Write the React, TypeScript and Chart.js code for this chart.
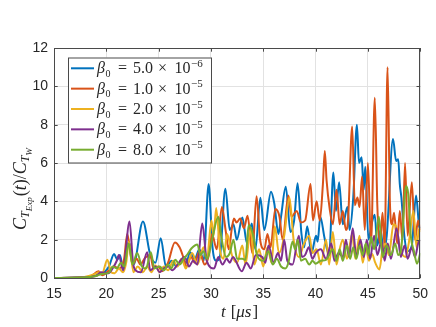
import React, { useEffect, useRef } from 'react';
import { Chart, registerables } from 'chart.js';

Chart.register(...registerables);

const xTickValues = [15, 20, 25, 30, 35, 40, 45, 50];
const yTickValues = [0, 2, 4, 6, 8, 10, 12];
const legendMantissa = ['5.0', '1.0', '2.0', '4.0', '8.0'];
const legendExponent = ['\u22126', '\u22125', '\u22125', '\u22125', '\u22125'];
const seriesColors = ['#0072BD', '#D95319', '#EDB120', '#7E2F8E', '#77AC30'];

// [t (µs), C_TExp/C_TW]
const beta5e6: [number, number][] = [[15,0],[17,0.02],[18,0.05],[18.8,0.1],[19.3,0.2],[19.8,0.3],[20.25,0.6],[20.75,1.25],[21.05,0.95],[21.3,1.2],[21.6,0.5],[22.15,1.9],[22.6,0.7],[23.5,2.95],[24.2,1.2],[24.7,0.8],[25.2,2.08],[25.7,0.6],[26.25,0.9],[26.7,0.6],[27.25,1.0],[27.65,0.8],[28.0,1.35],[28.45,1.0],[28.9,1.5],[29.3,0.9],[29.78,4.9],[30.15,1.6],[30.5,0.9],[30.85,1.1],[31.38,4.66],[31.8,2.5],[32.15,2.8],[32.47,2.0],[33.0,3.15],[33.45,1.8],[33.9,2.85],[34.25,1.5],[34.72,4.19],[35.1,2.5],[35.74,4.5],[36.05,3.9],[36.45,2.3],[36.7,3.2],[37.15,4.76],[37.6,2.4],[37.95,3.0],[38.28,4.94],[38.65,2.3],[38.9,1.6],[39.2,2.7],[39.6,1.3],[40.05,2.2],[40.2,1.9],[40.45,3.2],[40.85,2.1],[41.3,1.2],[41.7,5.5],[41.95,3.5],[42.25,5.0],[42.6,2.8],[43.05,3.7],[43.25,2.5],[43.6,4.2],[43.95,8.0],[44.15,6.0],[44.4,6.3],[44.6,4.6],[44.75,5.8],[45.05,2.0],[45.35,2.8],[45.65,3.3],[45.9,1.7],[46.2,2.5],[46.5,1.5],[46.8,2.2],[47.4,7.25],[47.7,6.1],[47.9,6.2],[48.05,4.9],[48.2,4.2],[48.5,2.1],[48.8,1.4],[49.2,1.7],[49.6,4.3],[49.9,2.7],[50,2.6]];

const beta1e5: [number, number][] = [[15,0],[17.5,0.02],[18.5,0.08],[19.25,0.35],[19.6,0.15],[20.25,0.4],[20.7,0.6],[21.25,0.5],[21.7,1.0],[22.0,2.3],[22.5,0.7],[22.9,1.0],[23.25,0.7],[23.7,1.05],[24.2,1.2],[24.5,0.5],[25.0,0.6],[25.3,0.35],[25.9,0.8],[26.55,1.85],[27.0,1.6],[27.35,1.1],[27.65,0.6],[28.1,1.1],[28.45,0.8],[28.9,1.4],[29.4,0.7],[29.8,1.2],[30.1,2.3],[30.55,1.5],[31.05,3.7],[31.4,2.5],[31.7,1.5],[32.0,2.6],[32.2,3.1],[32.45,2.9],[32.8,3.1],[33.15,2.6],[33.5,3.25],[33.95,1.3],[34.36,4.27],[34.7,2.0],[35.1,1.5],[35.4,2.3],[35.7,1.6],[36.15,3.6],[36.55,3.2],[36.85,2.0],[37.4,4.3],[37.7,3.2],[38.2,3.5],[38.6,2.9],[39.0,3.0],[39.52,4.9],[39.75,3.0],[40.1,4.0],[40.4,3.0],[40.7,4.9],[40.88,6.63],[41.05,5.1],[41.35,3.6],[41.65,2.8],[42.0,4.6],[42.3,2.8],[42.6,3.5],[42.9,2.5],[43.1,3.0],[43.5,7.9],[43.75,3.8],[44.0,4.2],[44.2,3.7],[44.45,5.3],[44.7,2.5],[45.0,6.0],[45.3,1.8],[45.66,9.4],[45.9,3.8],[46.15,1.8],[46.4,3.4],[46.6,1.6],[46.88,11.0],[47.1,4.0],[47.3,2.8],[47.5,3.4],[47.8,1.8],[48.05,3.5],[48.3,2.0],[48.55,6.0],[48.8,2.2],[49.2,5.0],[49.5,2.0],[49.8,3.0],[50,2.5]];

const beta2e5: [number, number][] = [[15,0],[17.5,0.02],[18.85,0.2],[19.3,0.3],[19.6,0.25],[20.1,0.95],[20.45,0.3],[20.8,0.25],[21.2,0.5],[21.6,0.3],[21.9,0.8],[22.15,1.9],[22.6,0.3],[23.0,0.6],[23.5,0.3],[23.9,0.6],[24.3,0.3],[24.7,0.65],[25.1,0.3],[25.5,0.6],[25.9,0.4],[26.4,0.9],[26.8,0.6],[27.2,1.0],[27.6,0.5],[28.2,1.3],[28.7,0.7],[29.3,1.6],[29.6,0.9],[30.05,3.0],[30.25,2.2],[30.5,3.65],[30.85,1.5],[31.2,1.0],[31.55,2.3],[32.0,1.2],[32.5,0.8],[33.0,1.7],[33.3,0.7],[33.8,2.6],[34.15,0.7],[34.6,1.5],[35.0,0.6],[35.4,1.6],[35.8,0.8],[36.1,2.7],[36.5,1.3],[37.0,2.2],[37.5,4.2],[37.9,2.0],[38.4,1.1],[38.9,1.8],[39.4,2.2],[39.7,1.3],[40.1,1.5],[40.5,0.7],[41.0,2.0],[41.3,0.7],[41.65,2.4],[42.0,0.7],[42.3,1.5],[42.6,2.0],[43.0,1.0],[43.5,2.3],[43.8,1.0],[44.2,2.2],[44.5,0.8],[44.8,1.6],[45.1,0.9],[45.4,1.25],[45.7,0.8],[46.1,0.45],[46.4,1.5],[46.7,1.8],[47.0,1.2],[47.45,2.8],[47.75,2.6],[48.1,1.5],[48.6,1.1],[48.9,1.8],[49.35,3.5],[49.65,1.6],[49.9,2.6],[50,2.4]];

const beta4e5: [number, number][] = [[15,0],[17.5,0.02],[19.0,0.1],[19.5,0.3],[20.2,0.25],[20.6,0.5],[21.0,0.9],[21.2,1.2],[21.6,0.4],[22.22,2.95],[22.55,0.8],[22.8,0.4],[23.3,0.3],[23.9,1.35],[24.2,0.4],[24.7,0.6],[25.1,0.3],[25.5,0.5],[25.95,0.6],[26.3,0.4],[26.8,0.7],[27.5,1.1],[27.9,0.6],[28.3,0.9],[28.7,0.7],[29.17,2.85],[29.6,0.9],[30.3,0.5],[30.7,1.1],[31.1,0.7],[31.5,1.0],[31.8,0.8],[32.1,1.1],[32.95,0.35],[33.4,0.8],[33.8,0.5],[34.3,1.2],[34.9,1.1],[35.2,0.8],[35.5,1.7],[36.0,0.8],[36.4,1.3],[36.7,0.9],[37.0,2.0],[37.3,0.9],[37.8,0.7],[38.4,2.2],[38.7,1.1],[39.0,1.2],[39.35,1.6],[39.7,1.0],[40.0,1.3],[40.5,1.5],[41.0,1.0],[41.5,1.8],[41.8,0.9],[42.2,1.3],[42.6,1.1],[42.9,2.0],[43.2,1.1],[43.55,2.6],[43.9,1.1],[44.3,2.0],[44.6,1.1],[44.9,2.0],[45.2,1.0],[45.6,2.2],[45.9,1.2],[46.3,1.9],[46.6,0.9],[46.9,1.8],[47.2,1.0],[47.75,2.6],[48.15,1.1],[48.5,1.7],[48.8,1.0],[49.2,1.6],[49.5,1.1],[49.9,1.95],[50,1.95]];

const beta8e5: [number, number][] = [[15,0],[17.5,0.02],[19.0,0.1],[19.5,0.2],[20.3,0.3],[20.6,0.6],[21.0,0.5],[21.4,0.8],[21.7,0.6],[22.15,1.8],[22.5,0.7],[22.95,1.3],[23.4,0.6],[23.8,0.5],[24.25,1.35],[24.6,0.5],[25.1,0.6],[25.5,0.4],[25.9,0.7],[26.2,0.5],[26.6,0.95],[27.0,0.7],[27.4,1.0],[27.7,1.2],[28.15,1.55],[28.7,1.75],[29.0,1.2],[29.3,1.4],[29.65,1.0],[29.9,1.46],[30.15,2.1],[30.7,3.2],[31.0,2.1],[31.45,1.1],[31.8,1.3],[32.15,2.0],[32.5,1.0],[33.0,1.0],[33.3,0.95],[33.6,2.75],[34.0,2.3],[34.4,1.2],[35.0,0.9],[35.5,1.4],[35.9,0.7],[36.3,1.0],[36.7,0.6],[37.1,0.5],[37.4,0.8],[37.8,1.9],[38.05,1.5],[38.3,2.0],[38.6,0.9],[39.0,1.0],[39.4,0.7],[39.7,0.9],[40.0,0.75],[40.5,0.9],[41.0,0.95],[41.65,1.5],[42.0,0.9],[42.3,1.5],[42.6,0.9],[43.0,1.7],[43.3,1.0],[43.6,1.6],[43.9,1.0],[44.2,1.7],[44.5,1.2],[44.8,1.8],[45.05,1.2],[45.3,2.15],[45.6,1.5],[46.05,3.2],[46.4,1.1],[46.8,1.7],[47.2,1.2],[47.6,1.8],[47.9,1.2],[48.2,1.6],[48.65,4.8],[48.85,4.4],[49.1,2.2],[49.4,1.4],[49.7,0.75],[50,1.3]];

const allSeries = [beta5e6, beta1e5, beta2e5, beta4e5, beta8e5];

const SERIF = '"Liberation Serif", "DejaVu Serif", serif';
const SANS = '"Liberation Sans", Arial, sans-serif';
const TEXT = '#262626';

type Piece = { t: string; font: string; dy: number; gap?: number };

function drawPieces(ctx: CanvasRenderingContext2D, pieces: Piece[], cx: number, base: number) {
  let total = 0;
  const widths = pieces.map((p) => {
    ctx.font = p.font;
    const w = ctx.measureText(p.t).width + (p.gap || 0);
    total += w;
    return w;
  });
  let x = cx - total / 2;
  pieces.forEach((p, i) => {
    ctx.font = p.font;
    ctx.fillText(p.t, x + (p.gap || 0), base + p.dy);
    x += widths[i];
  });
}

const overlayPlugin = {
  id: 'matlabOverlay',
  afterDraw(chart: any) {
    const ctx: CanvasRenderingContext2D = chart.ctx;
    const a = chart.chartArea;
    const xs = chart.scales.x;
    const ys = chart.scales.y;
    ctx.save();
    // axes box
    ctx.strokeStyle = '#4a4a4a';
    ctx.lineWidth = 1;
    ctx.strokeRect(Math.round(a.left) + 0.5, Math.round(a.top) + 0.5, Math.round(a.right - a.left) - 1, Math.round(a.bottom - a.top));
    // inward ticks
    const tl = 3.7;
    ctx.beginPath();
    xTickValues.forEach((v) => {
      const px = Math.round(xs.getPixelForValue(v)) + 0.5;
      ctx.moveTo(px, a.bottom); ctx.lineTo(px, a.bottom - tl);
      ctx.moveTo(px, a.top); ctx.lineTo(px, a.top + tl);
    });
    yTickValues.forEach((v) => {
      const py = Math.round(ys.getPixelForValue(v)) + 0.5;
      ctx.moveTo(a.left, py); ctx.lineTo(a.left + tl, py);
      ctx.moveTo(a.right, py); ctx.lineTo(a.right - tl, py);
    });
    ctx.stroke();

    // legend
    const lx = 68, ly = 57.5, lw = 143, lh = 105;
    ctx.fillStyle = '#ffffff';
    ctx.fillRect(lx, ly, lw, lh);
    ctx.strokeStyle = '#4a4a4a';
    ctx.strokeRect(lx + 0.5, ly + 0.5, lw, lh);
    for (let i = 0; i < 5; i++) {
      const cy = 68.3 + i * 20.35;
      ctx.strokeStyle = seriesColors[i];
      ctx.lineWidth = 2;
      ctx.beginPath();
      ctx.moveTo(71, cy);
      ctx.lineTo(94, cy);
      ctx.stroke();
      const base = cy + 5;
      ctx.fillStyle = TEXT;
      ctx.textBaseline = 'alphabetic';
      ctx.textAlign = 'left';
      ctx.font = `italic 16px ${SERIF}`;
      ctx.fillText('\u03B2', 97, base);
      const bw = ctx.measureText('\u03B2').width;
      ctx.font = `10px ${SERIF}`;
      ctx.fillText('0', 97 + bw + 0.5, base + 3.5);
      ctx.font = `16px ${SERIF}`;
      ctx.textAlign = 'center';
      ctx.fillText('=', 122.5, base);
      ctx.textAlign = 'left';
      ctx.fillText(legendMantissa[i], 133, base);
      ctx.textAlign = 'center';
      ctx.fillText('\u00D7', 162.5, base);
      ctx.textAlign = 'left';
      ctx.fillText('10', 174.5, base);
      ctx.font = `11px ${SERIF}`;
      ctx.fillText(legendExponent[i], 191, base - 6.5);
    }

    // x title
    ctx.fillStyle = TEXT;
    ctx.textAlign = 'left';
    ctx.textBaseline = 'alphabetic';
    drawPieces(ctx, [
      { t: 't', font: `italic 17px ${SERIF}`, dy: 0 },
      { t: '[', font: `17px ${SERIF}`, dy: 0, gap: 5 },
      { t: '\u03BC', font: `italic 17px ${SERIF}`, dy: 0 },
      { t: 's', font: `italic 17px ${SERIF}`, dy: 0 },
      { t: ']', font: `17px ${SERIF}`, dy: 0, gap: 1 },
    ], 239.5, 317);

    // y title (rotated)
    ctx.translate(20, 189);
    ctx.rotate(-Math.PI / 2);
    drawPieces(ctx, [
      { t: 'C', font: `italic 18px ${SERIF}`, dy: 0 },
      { t: 'T', font: `italic 12px ${SERIF}`, dy: 3.5 },
      { t: 'Exp', font: `italic 9px ${SERIF}`, dy: 6.5 },
      { t: '(', font: `18px ${SERIF}`, dy: 0, gap: 1 },
      { t: 't', font: `italic 18px ${SERIF}`, dy: 0 },
      { t: ')', font: `18px ${SERIF}`, dy: 0 },
      { t: '/', font: `18px ${SERIF}`, dy: 0 },
      { t: 'C', font: `italic 18px ${SERIF}`, dy: 0 },
      { t: 'T', font: `italic 12px ${SERIF}`, dy: 3.5 },
      { t: 'W', font: `italic 9px ${SERIF}`, dy: 6.5 },
    ], 0, 5.5);
    ctx.restore();
  },
};

export default function App() {
  const ref = useRef<HTMLCanvasElement | null>(null);
  useEffect(() => {
    if (!ref.current) return;
    const chart = new Chart(ref.current, {
      type: 'line',
      data: {
        datasets: allSeries.map((s, i) => ({
          label: `beta0 = ${legendMantissa[i]}e${legendExponent[i]}`,
          data: s.map(([t, v]) => ({ x: t, y: v })),
          borderColor: seriesColors[i],
          backgroundColor: seriesColors[i],
          borderWidth: 2,
          pointRadius: 0,
          fill: false,
          cubicInterpolationMode: 'monotone' as const,
          order: 4 - i,
        })),
      },
      options: {
        animation: false,
        responsive: false,
        devicePixelRatio: 1,
        layout: { padding: { top: 48, right: 11, left: 0, bottom: 0 } },
        plugins: { legend: { display: false }, tooltip: { enabled: false }, title: { display: false } },
        scales: {
          x: {
            type: 'linear',
            min: 15,
            max: 50,
            afterFit: (s: any) => { s.height = 49; },
            afterBuildTicks: (s: any) => { s.ticks = xTickValues.map((v) => ({ value: v })); },
            grid: { color: '#e2e2e2', drawTicks: false, lineWidth: 1 },
            border: { display: false },
            ticks: { padding: 8, color: TEXT, font: { family: SANS, size: 14 }, maxRotation: 0, autoSkip: false },
          },
          y: {
            type: 'linear',
            min: 0,
            max: 12,
            afterFit: (s: any) => { s.width = 54; },
            afterBuildTicks: (s: any) => { s.ticks = yTickValues.map((v) => ({ value: v })); },
            grid: { color: '#e2e2e2', drawTicks: false, lineWidth: 1 },
            border: { display: false },
            ticks: { padding: 6, color: TEXT, font: { family: SANS, size: 14 }, autoSkip: false },
          },
        },
      },
      plugins: [overlayPlugin],
    });
    return () => chart.destroy();
  }, []);
  return (
    <div style={{ position: 'fixed', left: 0, top: 0, width: 436, height: 327, background: '#fff' }}>
      <canvas ref={ref} width={436} height={327} style={{ display: 'block', width: 436, height: 327 }} />
    </div>
  );
}
